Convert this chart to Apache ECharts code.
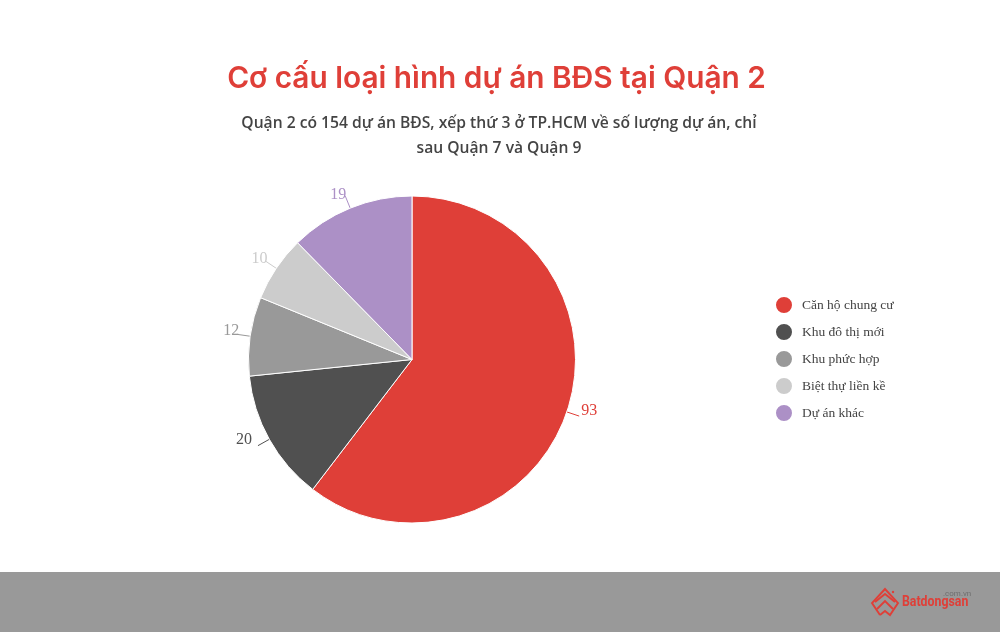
<!DOCTYPE html>
<html><head><meta charset="utf-8">
<style>html,body{margin:0;padding:0;background:#fff}#c{width:1000px;height:632px}</style>
<script src="https://cdn.jsdelivr.net/npm/echarts@6/dist/echarts.min.js"></script>
</head><body><div id="c"></div>
<script>
const categories = ["Căn hộ chung cư","Khu đô thị mới","Khu phức hợp","Biệt thự liền kề","Dự án khác"];
const values = [93,20,12,10,19];
const colors = ["#df3f38","#505050","#999999","#cccccc","#ac90c6"];
const labelShift = [[1,-5],[-5,-6],[3,-4],[3,-2],[2,-1]];
const titleText = "Cơ cấu loại hình dự án BĐS tại Quận 2";
const subtitleText = "Quận 2 có 154 dự án BĐS, xếp thứ 3 ở TP.HCM về số lượng dự án, chỉ\nsau Quận 7 và Quận 9";
const red = '#df3f38';
const logoLine = {fill:'none',stroke:red,lineWidth:1.9};
const chart = echarts.init(document.getElementById('c'),null,{renderer:'canvas'});
chart.setOption({
  animation:false,
  backgroundColor:'#fff',
  title:[
    {text:titleText,left:491.5,top:59,textAlign:'center',textStyle:{fontFamily:'Inter',fontSize:29.8,fontWeight:600,color:red}},
    {text:subtitleText,left:494,top:105.5,textAlign:'center',textStyle:{fontFamily:'Open Sans',fontSize:15.65,fontWeight:600,color:'#444',lineHeight:25.5}}
  ],
  legend:{orient:'vertical',left:769,top:290,icon:'circle',itemWidth:20,itemHeight:18,itemGap:7,
    data:categories,selectedMode:false,
    textStyle:{fontFamily:'Liberation Serif',fontSize:13.5,color:'#444',padding:[0,0,0,3]}},
  series:[{type:'pie',center:[412,359.5],radius:[0,163.5],startAngle:90,clockwise:true,
    data:categories.map((n,i)=>({name:n,value:values[i],
      itemStyle:{color:colors[i]},label:{color:colors[i]},labelLine:{lineStyle:{color:colors[i]}}})),
    itemStyle:{borderColor:'#fff',borderWidth:1},
    label:{show:true,position:'outside',formatter:'{c}',fontFamily:'Liberation Serif',fontSize:16,distanceToLabelLine:1},
    labelLine:{show:true,length:13,length2:0,smooth:false,lineStyle:{width:1}},
    labelLayout:(p)=>({dx:labelShift[p.dataIndex][0],dy:labelShift[p.dataIndex][1]}),
    emphasis:{disabled:true}
  }],
  graphic:[
    {type:'rect',silent:true,z:-1,shape:{x:0,y:572,width:1000,height:60},style:{fill:'#999999'}},
    {type:'group',silent:true,children:[
      {type:'polyline',shape:{points:[[880,615],[872,603],[885,589],[898,603],[890,615],[885,611],[880,615]]},style:logoLine},
      {type:'polyline',shape:{points:[[875,602],[885,594],[895,602]]},style:logoLine},
      {type:'polyline',shape:{points:[[877,609],[885,601],[893,609]]},style:logoLine},
      {type:'circle',shape:{cx:893,cy:592,r:1.2},style:{fill:red}},
      {type:'text',x:902,y:595,scaleX:0.88,style:{text:'Batdongsan',fontFamily:'Roboto',fontSize:14,fontWeight:700,fill:red}},
      {type:'text',x:943,y:590,style:{text:'.com.vn',fontFamily:'Roboto',fontSize:8,fill:'#6e6e6e'}}
    ]}
  ]
});
</script></body></html>
